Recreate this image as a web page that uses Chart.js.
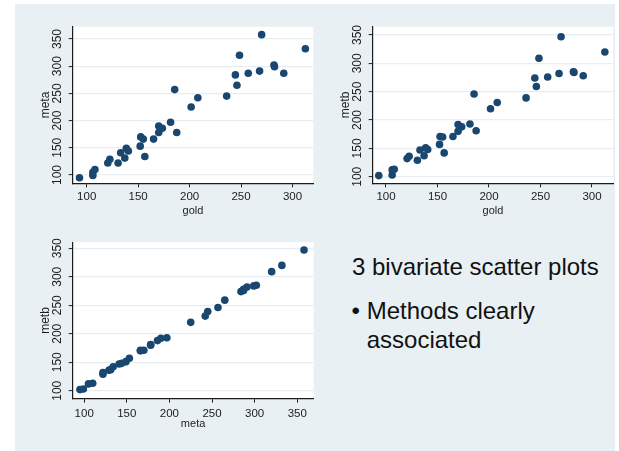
<!DOCTYPE html>
<html>
<head>
<meta charset="utf-8">
<script src="https://cdn.jsdelivr.net/npm/chart.js@4/dist/chart.umd.min.js"></script>
<style>
  body { margin: 0; background: #fff; width: 619px; height: 451px; overflow: hidden; position: relative; }
  #panel { position: absolute; left: 15px; top: 4px; width: 600px; height: 447px; background: rgb(233, 240, 243); }
  canvas { position: absolute; }
  .txt { position: absolute; font-family: "Liberation Sans", Arial, sans-serif; font-size: 24px; line-height: 24px; color: #111; white-space: nowrap; }
</style>
</head>
<body>
<div id="panel"></div>
<canvas id="plotA" width="305" height="215" style="left:15px;top:4px"></canvas>
<canvas id="plotB" width="299" height="215" style="left:320px;top:4px"></canvas>
<canvas id="plotC" width="305" height="226" style="left:15px;top:225px"></canvas>
<div class="txt" style="left:352px;top:254.7px">3 bivariate scatter plots</div>
<div class="txt" style="left:351.5px;top:299px">•</div>
<div class="txt" style="left:366.7px;top:299px">Methods clearly</div>
<div class="txt" style="left:366.7px;top:328px">associated</div>
<script>
// measurements, one entry per subject
const gold = [93, 106, 106, 108, 120.5, 122.5, 130.5, 133, 137, 138.5, 140.5, 152, 152.5, 155, 156.5, 165, 170, 170,
    173.5, 181.5, 187.5, 185.5, 201.5, 208, 236, 244.5, 246, 248.5, 257, 268, 270, 282, 282.5, 291.5, 312.5];
const meta = [95, 99, 105, 110, 122, 129, 122, 141, 131, 149, 144, 153, 170, 166, 134, 166, 178, 190,
    186, 197, 178, 257, 225, 242, 245, 284, 265, 320, 287, 291, 358, 302, 299, 287, 332];
const metb = [102, 103, 112, 113, 132, 136, 129, 147, 137, 151, 148, 157, 171, 170, 142, 171, 180, 192,
    188, 193, 181, 246, 220, 231, 239, 274, 259, 309, 276, 282, 347, 285, 284, 278, 320];

const goldTicks = [100, 150, 200, 250, 300];
const metaTicks = [100, 150, 200, 250, 300, 350];
const metbTicks = [100, 150, 200, 250, 300, 350];

const navy = '#1a476f';
const ink = '#1c1c1c';
const narrow = '"Liberation Sans Narrow", "Liberation Sans", Arial, sans-serif';
const regular = '"Liberation Sans", Arial, sans-serif';

// white plot region
const plotBg = {
    id: 'plotBg',
    beforeDraw(chart) {
        const {ctx, chartArea: a} = chart;
        ctx.save();
        ctx.fillStyle = '#fff';
        ctx.fillRect(a.left, a.top, a.right - a.left, a.bottom - a.top);
        ctx.restore();
    }
};

function scatter(id, xs, ys, cfg) {
    const ctx = document.getElementById(id).getContext('2d');
    return new Chart(ctx, {
        type: 'scatter',
        data: {
            datasets: [{
                data: xs.map((v, i) => ({x: v, y: ys[i]})),
                backgroundColor: navy,
                borderWidth: 0,
                pointRadius: 3.8,
                pointHoverRadius: 3.8
            }]
        },
        options: {
            responsive: false,
            animation: false,
            devicePixelRatio: 1,
            layout: {padding: cfg.pad},
            plugins: {legend: {display: false}, tooltip: {enabled: false}},
            scales: {
                x: {
                    type: 'linear',
                    min: cfg.xMin, max: cfg.xMax,
                    afterBuildTicks: s => { s.ticks = cfg.xTicks.map(v => ({value: v})); },
                    afterFit: s => { s.height = cfg.xH; },
                    grid: {drawOnChartArea: false, tickLength: 4, tickColor: ink, tickWidth: 1},
                    border: {color: ink, width: 1.2},
                    ticks: {font: {family: regular, size: 11.5}, color: ink, padding: cfg.xPad, autoSkip: false, maxRotation: 0},
                    title: {display: true, text: cfg.xTitle, color: ink, font: {family: regular, size: 11},
                        padding: {top: 0, bottom: cfg.xTitlePad}}
                },
                y: {
                    type: 'linear',
                    min: cfg.yMin, max: cfg.yMax,
                    afterBuildTicks: s => { s.ticks = cfg.yTicks.map(v => ({value: v})); },
                    afterFit: s => { s.width = cfg.yW; },
                    grid: {color: '#e6eef1', lineWidth: 1.2, tickLength: 4, tickColor: ink, tickWidth: 1},
                    border: {color: ink, width: 1.2},
                    ticks: {font: {family: narrow, size: 12}, color: ink, padding: 1, autoSkip: false,
                        minRotation: 90, maxRotation: 90, crossAlign: 'center'},
                    title: {display: true, text: cfg.yTitle, color: ink, font: {family: narrow, size: 12},
                        padding: {top: cfg.yTitlePad, bottom: 0}}
                }
            }
        },
        plugins: [plotBg]
    });
}

scatter('plotA', gold, meta, {
    pad: {left: 0, top: 22.7, right: 6.7, bottom: 0},
    xMin: 86.4, xMax: 320.2, yMin: 84.7, yMax: 372.6,
    xTicks: goldTicks, yTicks: metaTicks,
    xH: 35.7, yW: 57.7, xPad: 3, xTitlePad: 1.7, yTitlePad: 23.8,
    xTitle: 'gold', yTitle: 'meta'
});

scatter('plotB', gold, metb, {
    pad: {left: 0, top: 22.7, right: 5.7, bottom: 0},
    xMin: 87.1, xMax: 320.7, yMin: 88.4, yMax: 364.6,
    xTicks: goldTicks, yTicks: metbTicks,
    xH: 35.7, yW: 52.7, xPad: 3, xTitlePad: 1.7, yTitlePad: 18.8,
    xTitle: 'gold', yTitle: 'metb'
});

scatter('plotC', meta, metb, {
    pad: {left: 0, top: 17.3, right: 6.5, bottom: 0},
    xMin: 86.5, xMax: 369.1, yMin: 86, yMax: 360.5,
    xTicks: metaTicks, yTicks: metbTicks,
    xH: 52.3, yW: 57.7, xPad: 4, xTitlePad: 20.4, yTitlePad: 23.8,
    xTitle: 'meta', yTitle: 'metb'
});
</script>
</body>
</html>
